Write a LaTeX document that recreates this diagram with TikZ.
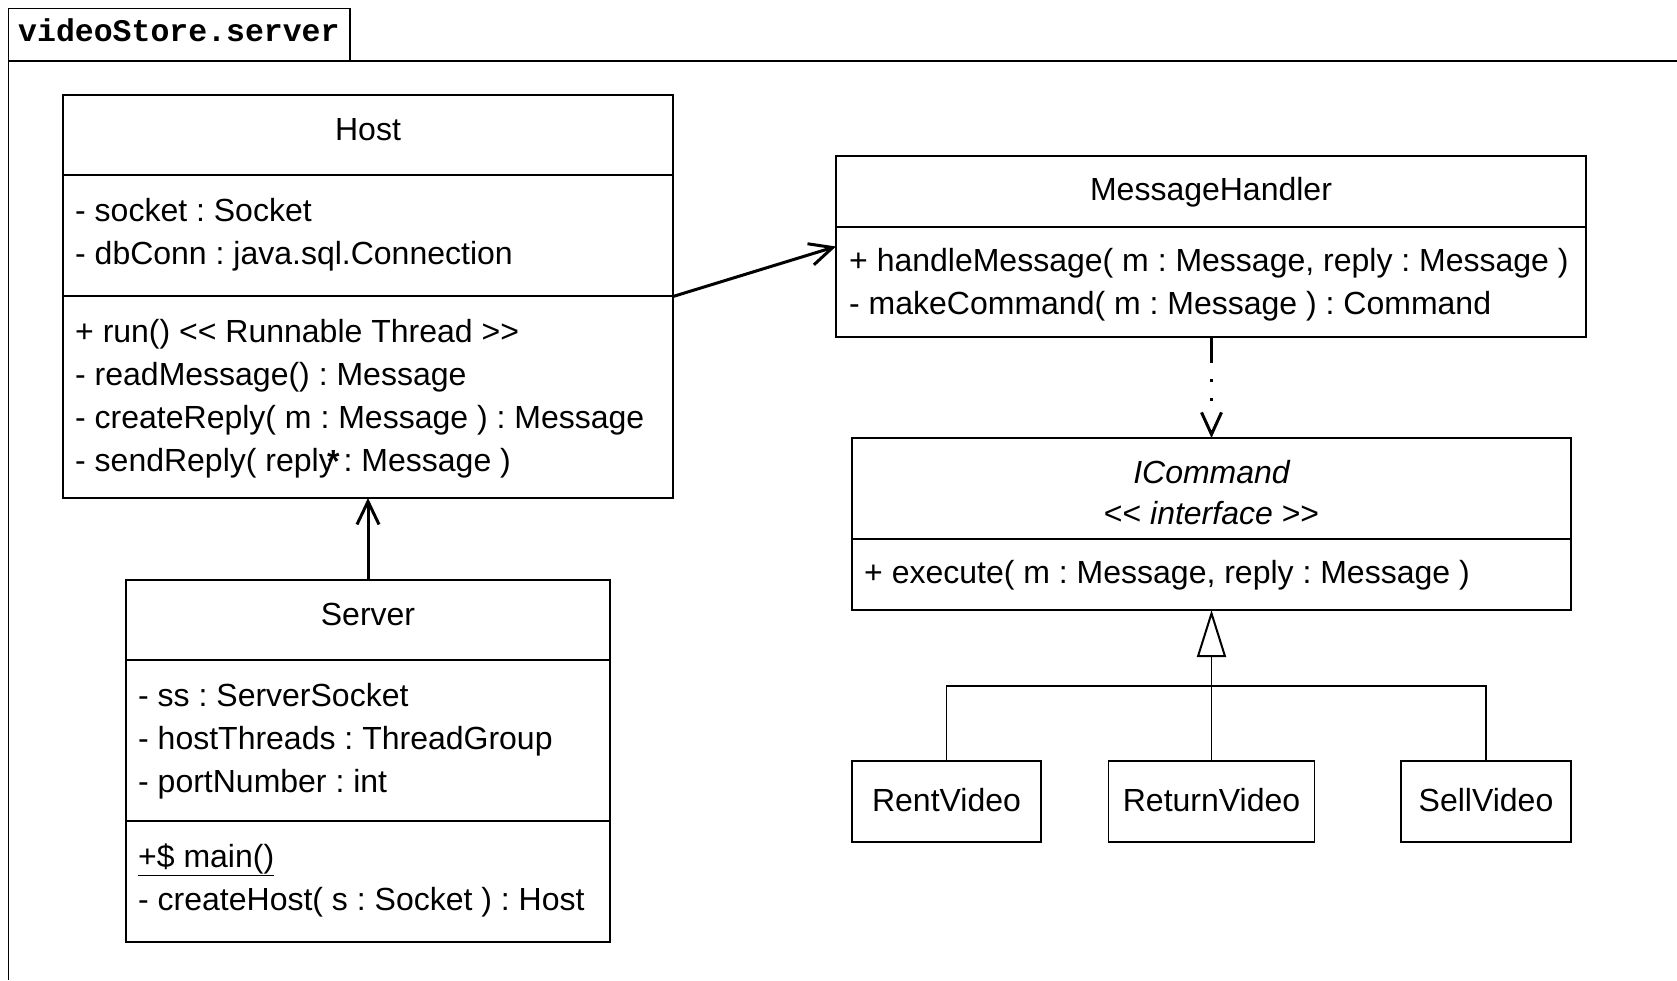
\documentclass[tikz,border=0pt]{standalone}
\usepackage{fontspec}
\newfontfamily\umlfont{Liberation Sans}
\newfontfamily\pkgfont{Liberation Mono}
\usetikzlibrary{arrows.meta}
\frenchspacing
\begin{document}
\begin{tikzpicture}[x=1pt,y=-1pt,
  box/.style={draw, line width=1.6pt, rectangle, inner sep=0pt, outer sep=0pt},
  rule/.style={line width=1.6pt},
  txt/.style={inner sep=0pt, anchor=base west, font=\umlfont\fontsize{32}{40}\selectfont},
  ctxt/.style={txt, anchor=base},
  assoc/.style={line width=3pt, -{Straight Barb[length=23pt,width=22pt]}},
  depend/.style={line width=3pt, dash pattern=on 26pt off 16pt on 3pt off 16pt on 3pt off 60pt,
    -{Straight Barb[length=22pt,width=20pt]}},
  gen/.style={line width=1.5pt},
  realize/.style={line width=1.5pt, -{Triangle[open,length=47pt,width=29pt,line width=2pt]}}
]
\useasboundingbox (0,0) rectangle (1677,980);

% package frame with its name tab
\node[box, minimum width=341.5pt, minimum height=52.5pt, anchor=north west] (tab) at (8.5,8.5) {};
\node[inner sep=0pt, anchor=base west, font=\pkgfont\bfseries\fontsize{31.5}{36}\selectfont] (pkgname) at (18,41) {videoStore.server};
\coordinate (frametl) at (8.5,61);
\coordinate (framebl) at (8.5,980);
\coordinate (frametr) at (1677,61);
\draw[rule] (framebl) -- (frametl) -- (frametr);

% Host
\node[box, minimum width=610pt, minimum height=403pt] (host) at (368,296.5) {};
\draw[rule] ([yshift=-80pt]host.north west) -- ([yshift=-80pt]host.north east);
\draw[rule] ([yshift=-201pt]host.north west) -- ([yshift=-201pt]host.north east);
\node[ctxt] (hostname) at (368,140) {Host};
\node[txt] (hosta1) at (75,221) {- socket : Socket};
\node[txt] (hosta2) at (75,264) {- dbConn : java.sql.Connection};
\node[txt] (hosto1) at (75,342) {+ run() << Runnable Thread >>};
\node[txt] (hosto2) at (75,385) {- readMessage() : Message};
\node[txt] (hosto3) at (75,428) {- createReply( m : Message ) : Message};
\node[txt] (hosto4) at (75,471) {- sendReply( reply : Message )};

% Server
\node[box, minimum width=484pt, minimum height=362pt] (server) at (368,761) {};
\draw[rule] ([yshift=-80pt]server.north west) -- ([yshift=-80pt]server.north east);
\draw[rule] ([yshift=-241pt]server.north west) -- ([yshift=-241pt]server.north east);
\node[ctxt] (servername) at (368,625) {Server};
\node[txt] (servera1) at (138,706) {- ss : ServerSocket};
\node[txt] (servera2) at (138,749) {- hostThreads : ThreadGroup};
\node[txt] (servera3) at (138,792) {- portNumber : int};
\node[txt] (servero1) at (138,867) {\underline{+\$ main()}};
\node[txt] (servero2) at (138,910) {- createHost( s : Socket ) : Host};

% MessageHandler
\node[box, minimum width=750pt, minimum height=181pt] (mh) at (1211,246.5) {};
\draw[rule] ([yshift=-71pt]mh.north west) -- ([yshift=-71pt]mh.north east);
\node[ctxt] (mhname) at (1211,200) {MessageHandler};
\node[txt] (mho1) at (849,271) {+ handleMessage( m : Message, reply : Message )};
\node[txt] (mho2) at (849,314) {- makeCommand( m : Message ) : Command};

% ICommand interface
\node[box, minimum width=719pt, minimum height=172pt] (icmd) at (1211.5,524) {};
\draw[rule] ([yshift=-101pt]icmd.north west) -- ([yshift=-101pt]icmd.north east);
\node[ctxt] (icmdname) at (1211.5,483) {\itshape ICommand};
\node[ctxt] (icmdster) at (1211.5,524) {<< \textit{interface} >>};
\node[txt] (icmdo1) at (864,583) {+ execute( m : Message, reply : Message )};

% command classes
\node[box, minimum width=189pt, minimum height=81pt] (rent) at (946.5,801.5) {};
\node[box, minimum width=206pt, minimum height=81pt] (ret) at (1211.5,801.5) {};
\node[box, minimum width=170pt, minimum height=81pt] (sell) at (1486,801.5) {};
\node[ctxt] (rentname) at (946.5,811) {RentVideo};
\node[ctxt] (retname) at (1211.5,811) {ReturnVideo};
\node[ctxt] (sellname) at (1486,811) {SellVideo};

% relations
\draw[assoc] (host.east) -- (mh.west);
\draw[assoc] (server.north) -- (host.south);
\node[txt, font=\umlfont\bfseries\fontsize{32}{40}\selectfont] (mult) at (327,472) {*};
\draw[depend] (mh.south -| icmd.north) -- (icmd.north);
\coordinate (join) at (1211.5,686);
\draw[gen] (rent.north) |- (join) -| (sell.north);
\draw[realize] (ret.north) -- (icmd.south);
\end{tikzpicture}
\end{document}
